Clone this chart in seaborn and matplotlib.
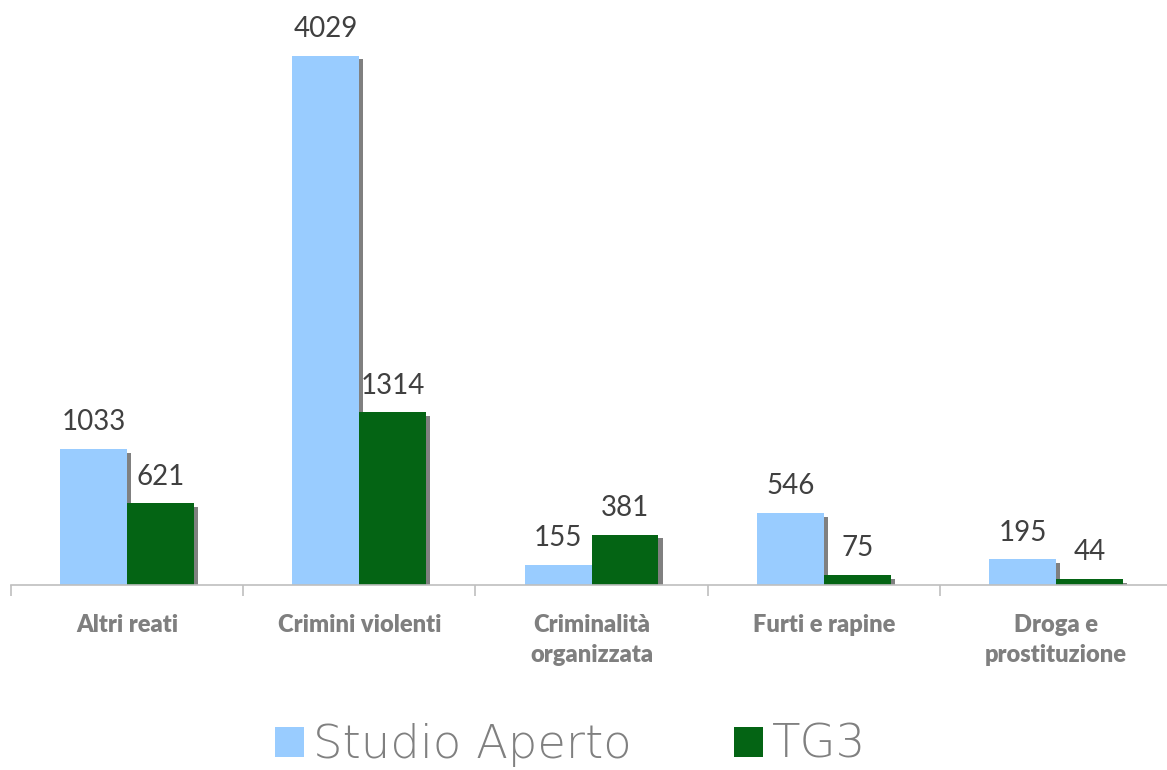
import matplotlib
matplotlib.use("Agg")
import matplotlib.pyplot as plt
import matplotlib.patheffects as pe
from matplotlib.patches import Patch
import seaborn as sns
import pandas as pd

categories = ["Altri reati", "Crimini violenti", "Criminalità\norganizzata",
              "Furti e rapine", "Droga e\nprostituzione"]
studio_aperto = [1033, 4029, 155, 546, 195]
tg3 = [621, 1314, 381, 75, 44]
series_names = ["Studio Aperto", "TG3"]
colors = ["#99CCFF", "#046414"]

df = pd.DataFrame({
    "cat": categories * 2,
    "val": studio_aperto + tg3,
    "serie": [series_names[0]] * 5 + [series_names[1]] * 5,
})

sns.set_theme(style="white")
plt.rcParams["font.family"] = ["Lato", "DejaVu Sans"]

fig = plt.figure(figsize=(11.67, 7.70), dpi=100)
ax = fig.add_axes([11 / 1167, 1 - 585 / 770, 1161 / 1167, 558 / 770])

sns.barplot(data=df, x="cat", y="val", hue="serie", palette=colors,
            width=0.577, saturation=1, ax=ax, legend=False, order=categories,
            hue_order=series_names)

for p in ax.patches:
    p.set_edgecolor("none")
    p.set_linewidth(0)
    p.set_path_effects([pe.SimplePatchShadow(offset=(3, -2.5), shadow_rgbFace="#808080", alpha=1.0),
                        pe.Normal()])

for cont in ax.containers:
    ax.bar_label(cont, padding=10, fontsize=20, color="#404040")

ax.set_xlim(-0.5, 4.5)
ax.set_ylim(0, 4250)
ax.set_xlabel("")
ax.set_ylabel("")
ax.set_yticks([])
for s in ["top", "right", "left"]:
    ax.spines[s].set_visible(False)
ax.spines["bottom"].set_color("#BFBFBF")
ax.spines["bottom"].set_linewidth(1.2)

ax.set_xticks(range(5))
ax.set_xticklabels(categories, fontsize=17, fontweight="heavy", color="#7F7F7F",
                   linespacing=1.45)
ax.tick_params(axis="x", which="major", length=0, pad=21)
ax.set_xticks([i - 0.5 for i in range(6)], minor=True)
ax.tick_params(axis="x", which="minor", length=8, width=1.2, color="#BFBFBF", bottom=True)

handles = [Patch(facecolor=c, edgecolor="none") for c in colors]
leg = fig.legend(handles, series_names, loc="center", bbox_to_anchor=(0.489, 1 - 745 / 770),
                 ncol=2, frameon=False, handlelength=0.62, handleheight=0.62,
                 handletextpad=0.2, columnspacing=2.2,
                 prop={"family": ["DejaVu Sans"], "size": 33.5, "weight": "light"})
for t in leg.get_texts():
    t.set_color("#808080")

fig.savefig("out.png", dpi=100)
